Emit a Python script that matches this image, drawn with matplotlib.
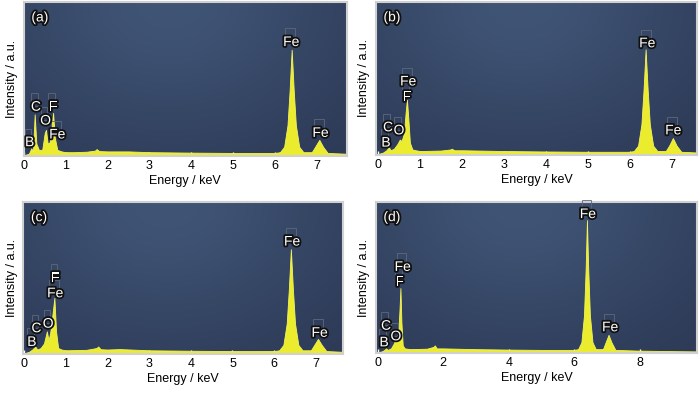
import numpy as np
import matplotlib
matplotlib.use("Agg")
import matplotlib.pyplot as plt
import matplotlib.patheffects as pe

plt.rcParams['font.family'] = ['Liberation Sans', 'DejaVu Sans']
plt.rcParams['font.size'] = 9

# spectra: energy (keV), intensity (% of panel height)
e_a = [0.0, 0.12, 0.18, 0.22, 0.26, 0.30, 0.36, 0.44, 0.50, 0.53, 0.57, 0.62, 0.66, 0.70, 0.74, 0.80,
       0.9, 1.0, 1.2, 1.5, 1.70, 1.74, 1.80, 2.0, 2.5, 3.0, 4.0, 5.0, 6.0, 6.12, 6.22, 6.30, 6.35,
       6.40, 6.45, 6.50, 6.58, 6.68, 6.88, 6.96, 7.06, 7.15, 7.26, 7.7]
i_a = [0.5, 1.5, 5, 3, 27, 8, 4, 4, 15, 17, 8, 9, 18, 28, 12, 4,
       3, 2.5, 2.5, 2.8, 3.5, 4.5, 3.2, 3, 3, 2.5, 2.2, 2, 2, 2.5, 6, 20, 42,
       69, 42, 20, 6, 2.5, 2.5, 6, 10.5, 6, 2, 1.5]

e_b = [0.0, 0.12, 0.20, 0.26, 0.30, 0.38, 0.46, 0.52, 0.56, 0.62, 0.66, 0.69, 0.72, 0.76, 0.82,
       0.9, 1.0, 1.5, 1.72, 1.76, 1.82, 2.0, 3.0, 4.0, 5.0, 6.0, 6.10, 6.20, 6.28, 6.33, 6.38,
       6.43, 6.48, 6.56, 6.66, 6.86, 6.94, 7.03, 7.12, 7.23, 7.65]
i_b = [0.5, 1.5, 3, 5, 3, 4, 7, 10, 9, 14, 28, 36, 25, 8, 3.5,
       3, 2.5, 2.8, 3.5, 4, 3, 3, 2.5, 2.2, 2, 2, 2.5, 6, 20, 42, 69,
       42, 20, 6, 2.5, 2.5, 6, 11, 6, 2, 1.5]

e_c = [0.0, 0.12, 0.20, 0.27, 0.32, 0.40, 0.48, 0.55, 0.59, 0.63, 0.68, 0.73, 0.77, 0.82,
       0.9, 1.0, 1.5, 1.74, 1.78, 1.84, 2.0, 2.3, 3.0, 4.0, 5.0, 6.0, 6.12, 6.22, 6.30, 6.35,
       6.40, 6.45, 6.50, 6.58, 6.68, 6.88, 6.96, 7.05, 7.14, 7.25, 7.65]
i_c = [0.5, 1.5, 3, 5, 3, 4, 7, 15, 9, 14, 25, 37, 15, 4,
       3, 2.5, 2.8, 4, 5, 3.2, 3, 3.3, 2.5, 2.2, 2, 2, 2.5, 6, 20, 42,
       69, 42, 20, 6, 2.5, 2.5, 6, 10, 6, 2, 1.5]

e_d = [0.0, 0.12, 0.20, 0.25, 0.30, 0.40, 0.48, 0.52, 0.58, 0.63, 0.66, 0.69, 0.72, 0.76, 0.82,
       1.0, 1.5, 1.70, 1.74, 1.80, 2.0, 3.0, 4.0, 5.0, 6.0, 6.12, 6.22, 6.30, 6.35, 6.39, 6.43,
       6.48, 6.56, 6.66, 6.88, 6.96, 7.05, 7.14, 7.26, 8.0, 9.0, 9.8]
i_d = [0.5, 1, 2, 3, 2, 3, 6, 8, 10, 16, 28, 43, 20, 5, 3,
       2.5, 2.8, 4, 5, 3, 3, 2.5, 2.2, 2, 2, 2.5, 7, 25, 55, 88, 55,
       25, 7, 2.5, 2.5, 7, 12, 7, 2, 1.5, 1.2, 1]

# peak labels: (text, energy, height)
lab_a = [("B", 0.14, 9), ("C", 0.29, 32), ("O", 0.52, 23), ("F", 0.70, 32), ("Fe", 0.80, 14),
         ("Fe", 6.39, 74), ("Fe", 7.09, 15)]
lab_b = [("B", 0.19, 8), ("C", 0.24, 18), ("O", 0.50, 16), ("F", 0.69, 38), ("Fe", 0.72, 48),
         ("Fe", 6.42, 73), ("Fe", 7.04, 16)]
lab_c = [("B", 0.19, 8), ("C", 0.30, 17), ("O", 0.58, 20), ("Fe", 0.75, 40), ("F", 0.75, 50),
         ("Fe", 6.43, 74), ("Fe", 7.09, 14)]
lab_d = [("B", 0.19, 7), ("C", 0.25, 18), ("O", 0.55, 11), ("F", 0.67, 47), ("Fe", 0.76, 57),
         ("Fe", 6.42, 92), ("Fe", 7.10, 17)]

panels = [
    ("(a)", e_a, i_a, lab_a, [0.034, 0.603, 0.461, 0.392], (0, 7.71), range(0, 8)),
    ("(b)", e_b, i_b, lab_b, [0.537, 0.606, 0.459, 0.389], (-0.05, 7.61), range(0, 8)),
    ("(c)", e_c, i_c, lab_c, [0.033, 0.099, 0.457, 0.387], (-0.02, 7.65), range(0, 8)),
    ("(d)", e_d, i_d, lab_d, [0.537, 0.102, 0.459, 0.384], (-0.06, 9.76), range(0, 10, 2)),
]

# dark blue backdrop, a bit lighter near the top centre
yy, xx = np.mgrid[0:1:200j, 0:1:300j]
glow = np.exp(-(((xx - 0.45) / 0.55) ** 2 + ((yy - 1.0) / 0.9) ** 2))
c0 = np.array([0.17, 0.22, 0.33])
c1 = np.array([0.25, 0.33, 0.46])
bg = c0 + (c1 - c0) * glow[..., None]

outline = [pe.withStroke(linewidth=2.6, foreground='#111111')]

fig = plt.figure(figsize=(7, 3.93), dpi=100)
for tag, e, inten, labs, pos, xl, ticks in panels:
    ax = fig.add_axes(pos)
    ax.imshow(bg, extent=[0, 1, 0, 1], origin='lower', transform=ax.transAxes,
              aspect='auto', zorder=0)
    ax.fill_between(e, 0, inten, color='#ecec2e', lw=0.6, edgecolor='#f4f45a', zorder=2)
    ax.set_xlim(*xl)
    ax.set_ylim(0, 100)
    ax.set_xticks(list(ticks))
    ax.set_yticks([])
    ax.tick_params(axis='x', direction='in', length=3, width=1, color='white', pad=3,
                   labelsize=9)
    for s in ax.spines.values():
        s.set_color('#d0d0d0')
        s.set_linewidth(1.5)
    ax.set_xlabel("Energy / keV", fontsize=9, labelpad=2)
    ax.set_ylabel("Intensity / a.u.", fontsize=9, labelpad=4)
    ax.text(0.05, 0.9, tag, transform=ax.transAxes, color='white', fontsize=10,
            ha='center', va='center', path_effects=outline, zorder=4)
    for txt, x, y in labs:
        # faint grey frame slightly above each label, as in the original
        ax.annotate(" " * len(txt), (x, y), xytext=(-1, 5), textcoords='offset points',
                    ha='center', va='center', fontsize=8,
                    bbox=dict(boxstyle='square,pad=0.15', fc='none', ec='#5f687a', lw=0.6),
                    zorder=3)
        ax.text(x, y, txt, color='white', fontsize=10, ha='center', va='center',
                path_effects=outline, zorder=4)

fig.savefig("out.png", dpi=100)
